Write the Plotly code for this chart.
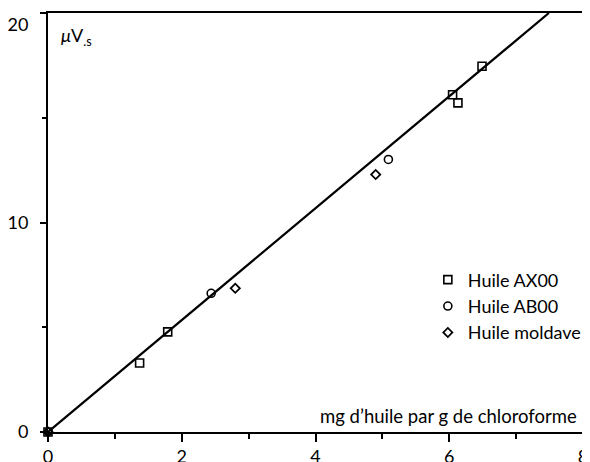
import plotly.graph_objects as go

# Data
ax00_x = [0.0, 1.37, 1.79, 6.05, 6.13, 6.49]
ax00_y = [0.0, 3.29, 4.78, 16.1, 15.71, 17.46]
ab00_x = [2.44, 5.09]
ab00_y = [6.62, 13.01]
mold_x = [0.0, 2.80, 4.90]
mold_y = [0.0, 6.86, 12.29]
fit_x = [0.0, 7.49]
fit_y = [0.0, 20.0]
x_ticks = [0, 2, 4, 6, 8]
y_ticks = [0, 10, 20]
y_tick_labels = ["0", "10", "20"]

# the top label sits a little below its tick in the reference
y_ticktext = y_tick_labels[:-1] + ["<br>" + y_tick_labels[-1]]

FONT = "Lato"
fig = go.Figure()

fig.add_trace(go.Scatter(x=fit_x, y=fit_y, mode="lines",
                         line=dict(color="black", width=2.2),
                         showlegend=False, hoverinfo="skip"))

fig.add_trace(go.Scatter(x=ax00_x, y=ax00_y, mode="markers", name="Huile AX00",
                         cliponaxis=False,
                         marker=dict(symbol="square-open", size=8, color="black",
                                     line=dict(width=1.6))))
fig.add_trace(go.Scatter(x=ab00_x, y=ab00_y, mode="markers", name="Huile AB00",
                         cliponaxis=False,
                         marker=dict(symbol="circle-open", size=8, color="black",
                                     line=dict(width=1.6))))
fig.add_trace(go.Scatter(x=mold_x, y=mold_y, mode="markers", name="Huile moldave",
                         cliponaxis=False,
                         marker=dict(symbol="diamond-open", size=7, color="black",
                                     line=dict(width=1.8))))

fig.update_layout(
    width=590, height=462,
    margin=dict(l=40, r=15, t=5, b=38),
    paper_bgcolor="white", plot_bgcolor="white",
    font=dict(family=FONT, size=18, color="black"),
    showlegend=True,
    legend=dict(x=0.71, y=0.407, xanchor="left", yanchor="top",
                bgcolor="rgba(0,0,0,0)", font=dict(size=18, family=FONT),
                traceorder="normal", itemwidth=30),
    xaxis=dict(range=[0, 8], tickvals=x_ticks, ticks="outside", ticklen=8,
               tickwidth=1.6, tickcolor="black", showgrid=False, zeroline=False,
               showline=True, linecolor="black", linewidth=2, mirror=True,
               ticklabelstandoff=-1, automargin=False, ticklabeloverflow="allow",
               minor=dict(dtick=1, ticks="outside", ticklen=5, tickwidth=1.6,
                          tickcolor="black", showgrid=False),
               tickfont=dict(size=18, family=FONT)),
    yaxis=dict(range=[0, 20], tickvals=y_ticks, ticktext=y_ticktext,
               ticks="outside", ticklen=6,
               tickwidth=1.6, tickcolor="black", showgrid=False, zeroline=False,
               showline=True, linecolor="black", linewidth=2, mirror=True,
               ticklabelstandoff=8, automargin=False, ticklabeloverflow="allow",
               minor=dict(dtick=5, ticks="outside", ticklen=4, tickwidth=1.6,
                          tickcolor="black", showgrid=False),
               tickfont=dict(size=18, family=FONT)),
)

fig.add_annotation(text="<i>μ</i>V<sub>.s</sub>", xref="paper", yref="paper",
                   x=0.02, y=0.943, xanchor="left", yanchor="middle",
                   showarrow=False, font=dict(size=18, family=FONT))
fig.add_annotation(text="mg d’huile par g de chloroforme", xref="paper", yref="paper",
                   x=0.993, y=0.038, xanchor="right", yanchor="middle",
                   showarrow=False, font=dict(size=18.5, family=FONT))

fig.write_html("out.html")
